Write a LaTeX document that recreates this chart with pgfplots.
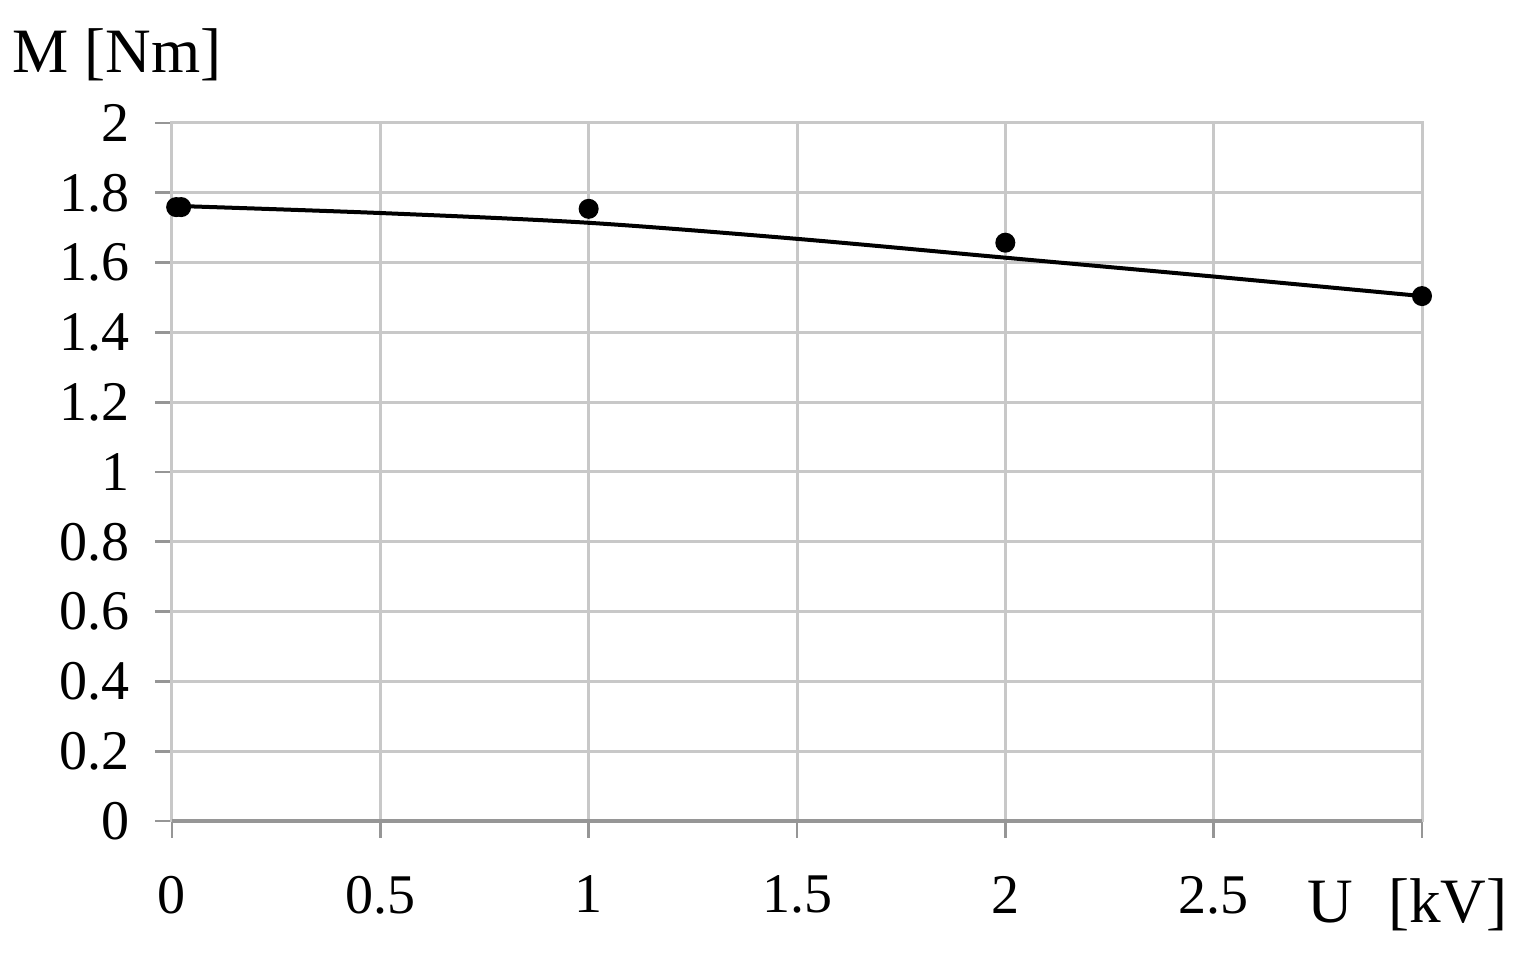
\documentclass[border=0pt]{standalone}
\usepackage{fontspec}
\setmainfont{Liberation Serif}
\usepackage{pgfplots}
\pgfplotsset{compat=1.18}

\definecolor{gridgray}{RGB}{200,200,200}
\definecolor{axisgray}{RGB}{150,150,150}

\begin{document}
\begin{tikzpicture}
\begin{axis}[
    name=ax,
    scale only axis,
    width=312.5pt, height=174.5pt,
    xmin=0, xmax=3, ymin=0, ymax=2,
    xtick={0,0.5,...,3}, ytick={0,0.2,...,2},
    xticklabels={0,0.5,1,1.5,2,2.5,},
    grid=major,
    major grid style={gridgray, line width=0.75pt},
    axis line style={gridgray, line width=0.75pt},
    tick align=outside,
    major tick length=4.2pt,
    tick style={axisgray, line width=0.7pt},
    xtick pos=bottom, ytick pos=left,
    /pgf/number format/assume math mode=true,
    ticklabel style={font=\fontsize{14}{16}\selectfont},
    yticklabel style={xshift=-3pt},
    xticklabel style={yshift=-6pt},
    xlabel={U\hspace{0.55em}[kV]},
    ylabel={M [Nm]},
    label style={font=\fontsize{15.8}{18}\selectfont, inner sep=0pt},
    xlabel style={at={(axis description cs:0.908,-0.145)}, anchor=base west},
    ylabel style={rotate=-90, at={(axis description cs:-0.128,1.073)}, anchor=base west},
    clip=false,
]
% trend line
\addplot[black, line width=1pt, smooth] coordinates {
    (0.02,1.762) (0.5,1.742) (1,1.714) (1.5,1.668) (2,1.614) (2.5,1.560) (3,1.504)
};
% measured points
\addplot[only marks, mark=*, mark size=2.3pt, black] coordinates {
    (0.01,1.759) (0.022,1.759) (1,1.754) (2,1.657) (3,1.504)
};
\draw[axisgray, line width=1.1pt] (rel axis cs:0,0) -- (rel axis cs:1,0);
\end{axis}
\path ([shift={(-43pt,-34.75pt)}]ax.south west) rectangle ([shift={(27pt,30.75pt)}]ax.north east);
\end{tikzpicture}
\end{document}
